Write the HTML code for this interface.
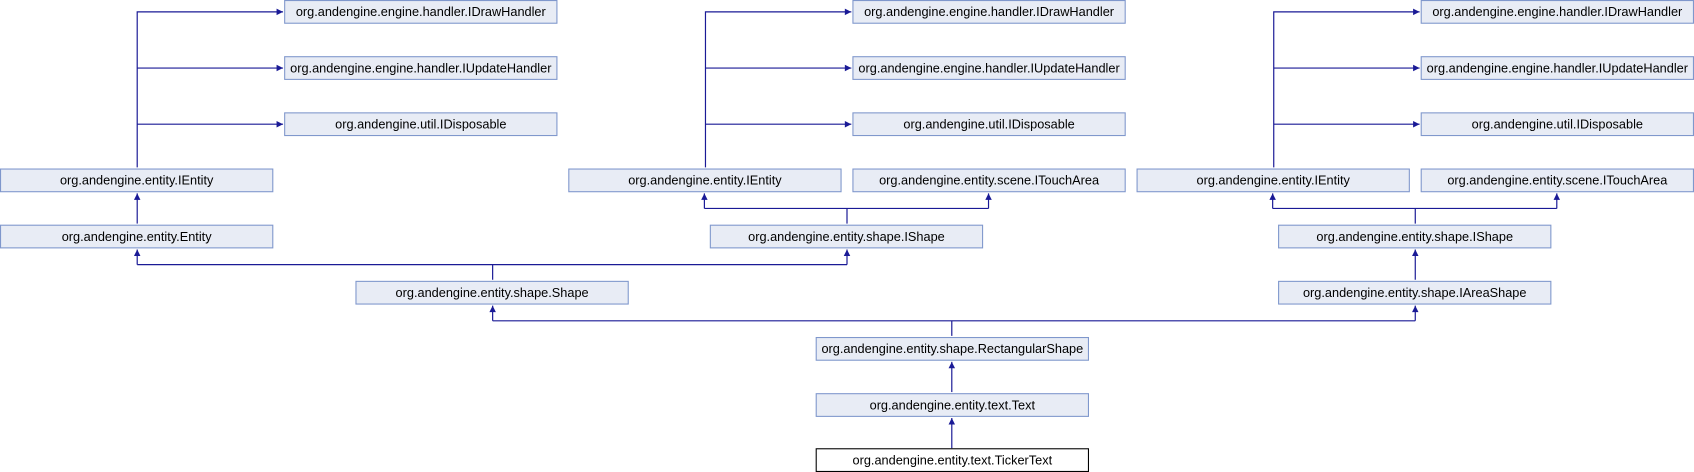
<!DOCTYPE html>
<html><head><meta charset="utf-8"><style>
html,body{margin:0;padding:0;background:#fff;width:1694px;height:472px;overflow:hidden}
svg{display:block}
text{font-family:"Liberation Sans",Arial,sans-serif;font-size:11.8px;fill:#000;text-anchor:middle}
.b{fill:#e8ecf5;stroke:#7f97cc;stroke-width:1}
.l{stroke:#1a1a96;stroke-width:1.1;fill:none}
.a{fill:#1a1a96}
</style></head><body>
<svg width="1694" height="472" viewBox="0 0 1568 437" preserveAspectRatio="none">
<path class="l" d="M127,155V11H262M127,63H262M127,115H262" />
<polygon class="a" points="262,11 256,8 256,14"/><polygon class="a" points="262,63 256,60 256,66"/><polygon class="a" points="262,115 256,112 256,118"/>
<path class="l" d="M127,207V179"/><polygon class="a" points="127,179 124,185 130,185"/>
<path class="l" d="M653,155V11H788M653,63H788M653,115H788" />
<polygon class="a" points="788,11 782,8 782,14"/><polygon class="a" points="788,63 782,60 782,66"/><polygon class="a" points="788,115 782,112 782,118"/>
<path class="l" d="M784,207V193M652,193H915M652,193V179M915,193V179"/>
<polygon class="a" points="652,179 649,185 655,185"/><polygon class="a" points="915,179 912,185 918,185"/>
<path class="l" d="M1179,155V11H1314M1179,63H1314M1179,115H1314" />
<polygon class="a" points="1314,11 1308,8 1308,14"/><polygon class="a" points="1314,63 1308,60 1308,66"/><polygon class="a" points="1314,115 1308,112 1308,118"/>
<path class="l" d="M1310,207V193M1178,193H1441M1178,193V179M1441,193V179"/>
<polygon class="a" points="1178,179 1175,185 1181,185"/><polygon class="a" points="1441,179 1438,185 1444,185"/>
<path class="l" d="M1310,259V231"/><polygon class="a" points="1310,231 1307,237 1313,237"/>
<path class="l" d="M456,259V245M127,245H784M127,245V231M784,245V231"/>
<polygon class="a" points="127,231 124,237 130,237"/><polygon class="a" points="784,231 781,237 787,237"/>
<path class="l" d="M881,311V297M456,297H1310M456,297V283M1310,297V283"/>
<polygon class="a" points="456,283 453,289 459,289"/><polygon class="a" points="1310,283 1307,289 1313,289"/>
<path class="l" d="M881,363V335"/><polygon class="a" points="881,335 878,341 884,341"/>
<path class="l" d="M881,415V387"/><polygon class="a" points="881,387 878,393 884,393"/>
<g>
<rect class="b" x="263.5" y="0.5" width="252" height="21"/><text x="389.5" y="15">org.andengine.engine.handler.IDrawHandler</text>
<rect class="b" x="263.5" y="52.5" width="252" height="21"/><text x="389.5" y="67">org.andengine.engine.handler.IUpdateHandler</text>
<rect class="b" x="263.5" y="104.5" width="252" height="21"/><text x="389.5" y="119">org.andengine.util.IDisposable</text>
<rect class="b" x="0.5" y="156.5" width="252" height="21"/><text x="126.5" y="171">org.andengine.entity.IEntity</text>
<rect class="b" x="0.5" y="208.5" width="252" height="21"/><text x="126.5" y="223">org.andengine.entity.Entity</text>
<rect class="b" x="329.5" y="260.5" width="252" height="21"/><text x="455.5" y="275">org.andengine.entity.shape.Shape</text>

<rect class="b" x="789.5" y="0.5" width="252" height="21"/><text x="915.5" y="15">org.andengine.engine.handler.IDrawHandler</text>
<rect class="b" x="789.5" y="52.5" width="252" height="21"/><text x="915.5" y="67">org.andengine.engine.handler.IUpdateHandler</text>
<rect class="b" x="789.5" y="104.5" width="252" height="21"/><text x="915.5" y="119">org.andengine.util.IDisposable</text>
<rect class="b" x="526.5" y="156.5" width="252" height="21"/><text x="652.5" y="171">org.andengine.entity.IEntity</text>
<rect class="b" x="789.5" y="156.5" width="252" height="21"/><text x="915.5" y="171">org.andengine.entity.scene.ITouchArea</text>
<rect class="b" x="657.5" y="208.5" width="252" height="21"/><text x="783.5" y="223">org.andengine.entity.shape.IShape</text>

<rect class="b" x="1315.5" y="0.5" width="252" height="21"/><text x="1441.5" y="15">org.andengine.engine.handler.IDrawHandler</text>
<rect class="b" x="1315.5" y="52.5" width="252" height="21"/><text x="1441.5" y="67">org.andengine.engine.handler.IUpdateHandler</text>
<rect class="b" x="1315.5" y="104.5" width="252" height="21"/><text x="1441.5" y="119">org.andengine.util.IDisposable</text>
<rect class="b" x="1052.5" y="156.5" width="252" height="21"/><text x="1178.5" y="171">org.andengine.entity.IEntity</text>
<rect class="b" x="1315.5" y="156.5" width="252" height="21"/><text x="1441.5" y="171">org.andengine.entity.scene.ITouchArea</text>
<rect class="b" x="1183.5" y="208.5" width="252" height="21"/><text x="1309.5" y="223">org.andengine.entity.shape.IShape</text>
<rect class="b" x="1183.5" y="260.5" width="252" height="21"/><text x="1309.5" y="275">org.andengine.entity.shape.IAreaShape</text>

<rect class="b" x="755.5" y="312.5" width="252" height="21"/><text x="881.5" y="327">org.andengine.entity.shape.RectangularShape</text>
<rect class="b" x="755.5" y="364.5" width="252" height="21"/><text x="881.5" y="379">org.andengine.entity.text.Text</text>
<rect x="755.5" y="415.5" width="252" height="21" fill="#fff" stroke="#000"/><text x="881.5" y="430">org.andengine.entity.text.TickerText</text>
</g>
</svg>
</body></html>
